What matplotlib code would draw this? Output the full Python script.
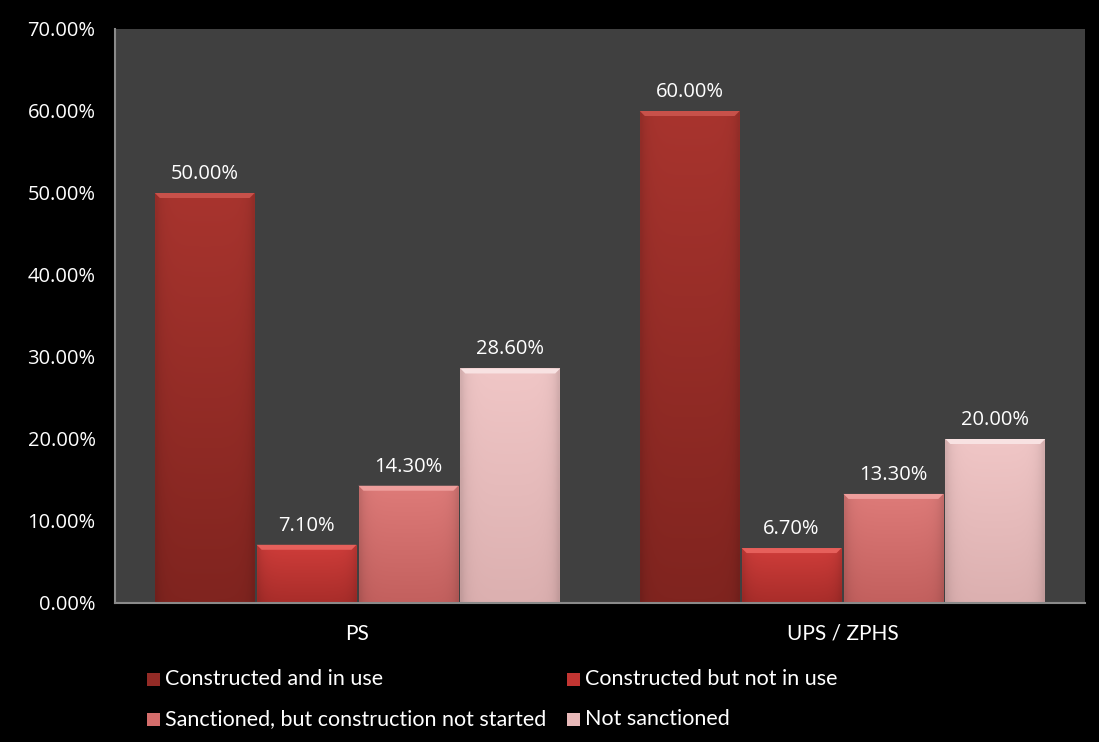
import matplotlib
matplotlib.use("Agg")
import matplotlib.pyplot as plt
import numpy as np
from matplotlib.patches import Rectangle, Polygon
from matplotlib.colors import to_rgb

categories = ["PS", "UPS / ZPHS"]
series_names = ["Constructed and in use", "Constructed but not in use",
                "Sanctioned, but construction not started", "Not sanctioned"]
values = [
    [50.0, 60.0],
    [7.1, 6.7],
    [14.3, 13.3],
    [28.6, 20.0],
]
yticks = [0, 10, 20, 30, 40, 50, 60, 70]

colors = ["#932b26", "#c23532", "#d46d6b", "#e8b9b9"]
grad_top = ["#a8342e", "#cf3d3a", "#de7b79", "#f0c6c6"]
grad_bot = ["#80241f", "#a92d2a", "#c3605e", "#dcb0b0"]
top_colors = ["#c8514a", "#e6605b", "#ee9e9c", "#f8e2e2"]

W, H = 1099, 742
fig = plt.figure(figsize=(W / 100, H / 100), dpi=100, facecolor="black")
ax = fig.add_axes([115 / W, 1 - 603 / H, (1085 - 115) / W, (603 - 29) / H])
ax.set_facecolor("#404040")

num_font = ["Open Sans", "DejaVu Sans"]
txt_font = ["Lato", "DejaVu Sans"]

x = np.arange(len(categories))
bw = 0.21
offsets = (np.arange(4) - 1.5) * bw
px_per_unit = (603 - 29) / 70.0
bev = 5 / px_per_unit          # bevel height in data units
bevx = 5 / ((1085 - 115) / 2.0)  # bevel width in data units
for i, (name, vals) in enumerate(zip(series_names, values)):
    bars = ax.bar(x + offsets[i], vals, width=bw * 0.98, color=colors[i],
                  edgecolor="none", label=name, zorder=2)
    for b, v in zip(bars, vals):
        x0, x1 = b.get_x(), b.get_x() + b.get_width()
        # vertical gradient fill clipped to the bar
        t = np.array(to_rgb(grad_top[i]))
        bt = np.array(to_rgb(grad_bot[i]))
        f = np.linspace(0, 1, 64)[:, None]
        grad = (t * (1 - f) + bt * f)[:, None, :]
        # side shading
        sx = np.linspace(0, 1, 32)
        side = 1 - 0.12 * (np.exp(-sx / 0.06) + np.exp(-(1 - sx) / 0.06))
        img = grad * side[None, :, None]
        im = ax.imshow(np.clip(img, 0, 1), extent=(x0, x1, 0, v), aspect="auto",
                       origin="upper", zorder=2.5, interpolation="bilinear")
        im.set_clip_path(b)
        ax.add_patch(Polygon([(x0, v), (x1, v), (x1 - bevx, v - bev), (x0 + bevx, v - bev)],
                             closed=True, facecolor=top_colors[i], edgecolor="none", zorder=3))
        ax.text((x0 + x1) / 2, v + 1.1, f"{v:.2f}%", family=num_font,
                ha="center", va="bottom", color="white", fontsize=14.5, zorder=4)

ax.set_xlim(-0.5, 1.5)
ax.set_ylim(0, 70)
ax.set_yticks(yticks)
ax.set_yticklabels([f"{t:.2f}%" for t in yticks], color="white", fontsize=14.5,
                   family=num_font)
ax.set_xticks(x)
ax.set_xticklabels(categories, color="white", fontsize=15, family=txt_font)
ax.tick_params(axis="y", length=0, pad=14)
ax.tick_params(axis="x", length=0, pad=15)
for s in ["top", "right"]:
    ax.spines[s].set_visible(False)
for s in ["left", "bottom"]:
    ax.spines[s].set_color("#8a8a8a")
    ax.spines[s].set_linewidth(1.5)
    ax.spines[s].set_zorder(5)

# legend (manual, Excel-like layout)
leg_pos = [(147, 679), (567, 679), (147, 719), (567, 719)]
for (px, py), name, c in zip(leg_pos, series_names, colors):
    fig.patches.append(Rectangle((px / W, 1 - (py + 6.5) / H), 13 / W, 13 / H,
                                 transform=fig.transFigure, facecolor=c,
                                 edgecolor="none"))
    fig.text((px + 18) / W, 1 - py / H, name, color="white", fontsize=15.5,
             family=txt_font, ha="left", va="center")

fig.savefig("out.png", dpi=100, facecolor="black")
